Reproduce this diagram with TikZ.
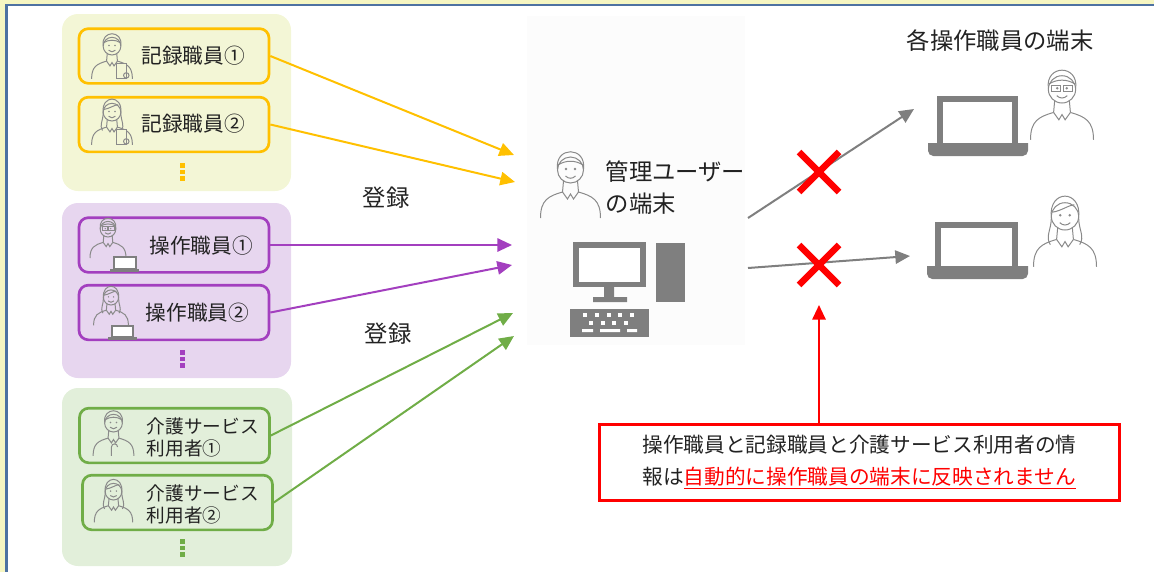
\documentclass[tikz,border=0pt]{standalone}
\usepackage{fontspec}
\setmainfont{Noto Sans CJK JP}
\usetikzlibrary{arrows.meta,shapes.misc}

\definecolor{recorange}{HTML}{FFC000}
\definecolor{recpanel}{HTML}{F3F6D6}
\definecolor{oppurple}{HTML}{A33FBF}
\definecolor{oppanel}{HTML}{E7D6EF}
\definecolor{caregreen}{HTML}{70AD47}
\definecolor{carepanel}{HTML}{E2EFDA}
\definecolor{devgray}{HTML}{7F7F7F}
\definecolor{icongray}{HTML}{8A8A8A}
\definecolor{framey}{HTML}{F6F6C2}
\definecolor{frameb}{HTML}{4E72A2}
\definecolor{txt}{HTML}{222222}

% head and shoulders, about 60 wide and 66 high
\newcommand\drawbust{%
  \draw[icon] (0,-13) circle (13);
  \draw[icon] (-7,-2) -- (-8,9) (7,-2) -- (8,9);
  \draw[icon] (-30,35) .. controls (-30,17) and (-22,13) .. (-8,9);
  \draw[icon] (30,35) .. controls (30,17) and (22,13) .. (8,9);
  \draw[icon] (-8,9) -- (-3,16) -- (0,11) -- (3,16) -- (8,9);
  \fill[icongray] (-4.5,-14) circle (1.3) (4.5,-14) circle (1.3);
  \draw[icon] (-5,-7) .. controls (-2,-4) and (2,-4) .. (5,-7);
}

\tikzset{
  icon/.style={draw=icongray, line width=0.75pt},
  man/.pic={\drawbust
    \draw[icon] (-13,-14) .. controls (-16,-37) and (16,-37) .. (13,-14);
    \draw[icon] (-12.5,-18) .. controls (-5,-23) and (5,-23) .. (12.5,-18);},
  woman/.pic={\drawbust
    \draw[icon] (-13,-12) .. controls (-16,-39) and (16,-39) .. (13,-12) .. controls (13,0) and (19,6) .. (14,14);
    \draw[icon] (-13,-12) .. controls (-13,0) and (-19,6) .. (-14,14);
    \draw[icon] (-12,-17) .. controls (-4,-18) and (4,-24) .. (9,-24);},
  specs/.pic={\draw[icon] (-10,-17) rectangle (-1.5,-11) (1.5,-17) rectangle (10,-11);},
  board/.pic={\filldraw[icon, fill=recpanel] (6,12) rectangle (21,34);
    \draw[icon] (21,30) circle (4);},
  cane/.pic={\draw[icon] (-3,35) -- (-3,22) .. controls (-3,16) and (6,16) .. (6,22);},
}

\begin{document}
\begin{tikzpicture}[x=0.75pt, y=-0.75pt,
  every node/.style={text=txt},
  lbl/.style={font=\fontsize{15.5}{17}\selectfont},
  carelbl/.style={font=\fontsize{14}{16.5}\selectfont, align=left, anchor=west},
  titletxt/.style={font=\fontsize{17.5}{24}\selectfont},
  member/.style={draw, rounded corners=7pt, line width=2pt, minimum width=142.5pt, minimum height=41pt, inner sep=0pt},
  feed/.style={line width=1.5pt, -{Triangle[length=11pt,width=10pt]}},
  ng/.style={cross out, draw=red, line width=5pt, minimum size=25pt, inner sep=0pt}]
\useasboundingbox (0,0) rectangle (1154,572);

% frame
\fill[framey] (0,0) rectangle (1154,3.5);
\fill[frameb] (0,3.5) rectangle (1154,6);
\fill[framey] (0,0) rectangle (5,572);
\fill[frameb] (5,3.5) rectangle (7.5,572);

% panels
\fill[recpanel, rounded corners=12pt] (62,14) rectangle (291,191);
\fill[oppanel, rounded corners=12pt] (62,203) rectangle (291,378);
\fill[carepanel, rounded corners=12pt] (62,388) rectangle (292,566);
\fill[black!1] (527,16) rectangle (745,345);

% member boxes
\node[member, draw=recorange] (rec1) at (174,56) {};
\node[member, draw=recorange] (rec2) at (174,124.5) {};
\node[member, draw=oppurple] (op1) at (174,245) {};
\node[member, draw=oppurple] (op2) at (174,312.5) {};
\node[member, draw=caregreen] (care1) at (174.5,435.5) {};
\node[member, draw=caregreen] (care2) at (177.5,502.5) {};

\node[lbl] (rec1t) at (193,56) {記録職員①};
\node[lbl] (rec2t) at (193,124) {記録職員②};
\node[lbl] (op1t) at (201,246) {操作職員①};
\node[lbl] (op2t) at (197.5,313) {操作職員②};
\node[carelbl] (care1t) at (142,437) {介護サービス\\利用者①};
\node[carelbl] (care2t) at (142,504) {介護サービス\\利用者②};

\foreach \c/\y in {recorange/163, oppurple/350, caregreen/539}
  \foreach \d in {0,6.5,13}
    \fill[\c] (180,\y+\d) rectangle +(4.5,4.5);

% people
\pic[scale=.68] at (112,55) {man};
\pic[scale=.68] at (112,55) {board};
\pic[scale=.68] at (112,121) {woman};
\pic[scale=.68] at (112,121) {board};
\pic[scale=.6] at (108,237) {man};
\pic[scale=.6] at (108,237) {specs};
\pic[scale=.58] at (111,305) {woman};
\pic[scale=.68] at (113.5,432) {man};
\pic[scale=.68] at (113.5,432) {cane};
\pic[scale=.64] at (113.5,500) {woman};
\pic at (570.5,183) {man};
\pic[scale=1.05] at (1062,103) {man};
\pic[scale=1.05] at (1062,103) {specs};
\pic[scale=1.05] at (1065,230) {woman};

% small laptops
\filldraw[devgray, fill=white, line width=1.2pt] (114,257) rectangle (136,269);
\fill[devgray] (110,269) rectangle (139,272);
\filldraw[devgray, fill=white, line width=1.2pt] (112,326) rectangle (133,337);
\fill[devgray] (108,337) rectangle (137,340);

% desktop
\fill[devgray] (573,242) rectangle (646,287);
\fill[white] (579,248) rectangle (640,281.5);
\fill[devgray] (604,287) rectangle (614,297) (593,297) rectangle (627,302);
\fill[devgray] (656,243) rectangle (685,302);
\fill[devgray] (570,309) rectangle (649,337);
\foreach \x in {583,595,607,618,630} \fill[white] (\x,313) rectangle +(4,4);
\foreach \x in {589,601,612,624} \fill[white] (\x,321) rectangle +(4,4);
\fill[white] (582,329) rectangle (593,332) (600,329) rectangle (620,332) (627,329) rectangle (637,332);

% laptops
\fill[devgray] (937,96) rectangle (1018,143);
\fill[white] (943,102) rectangle (1012,143);
\fill[devgray] (928,143) -- (1028,143) [rounded corners=4pt] -- (1028,156) -- (928,156) [sharp corners] -- cycle;
\fill[devgray] (935,222) rectangle (1018,266);
\fill[white] (941,228) rectangle (1012,266);
\fill[devgray] (927,266) -- (1028,266) [rounded corners=4pt] -- (1028,279) -- (927,279) [sharp corners] -- cycle;

% titles
\node[titletxt, align=left, anchor=west] (admt) at (601,188) {管理ユーザー\\の端末};
\node[titletxt] (pct) at (1000,41) {各操作職員の端末};
\node[titletxt] (reg1) at (386,198) {登録};
\node[titletxt] (reg2) at (388,334) {登録};

% connectors
\coordinate (in1) at (514,155);
\coordinate (in2) at (515,182);
\coordinate (in3) at (512,245);
\coordinate (in4) at (512,265);
\coordinate (in5) at (513,313);
\coordinate (in6) at (514,336);
\draw[feed, recorange] (rec1.east) -- (in1);
\draw[feed, recorange] (rec2.east) -- (in2);
\draw[feed, oppurple] (op1.east) -- (in3);
\draw[feed, oppurple] (op2.east) -- (in4);
\draw[feed, caregreen] (care1.east) -- (in5);
\draw[feed, caregreen] (care2.east) -- (in6);

\coordinate (out1) at (748,218);
\coordinate (out2) at (748,268);
\coordinate (pc1) at (914,109);
\coordinate (pc2) at (910,256);
\draw[feed, devgray] (out1) -- (pc1);
\draw[feed, devgray] (out2) -- (pc2);

\node[ng] (x1) at (819,172) {};
\node[ng] (x2) at (819,265) {};

% note
\node[draw=red, line width=2.2pt, minimum width=390pt, minimum height=57pt, align=left,
  font=\fontsize{15.5}{24}\selectfont] (note) at (859.5,462.5)
  {操作職員と記録職員と介護サービス利用者の情\\報は\textcolor{red}{\underline{自動的に操作職員の端末に反映されません}}};
\coordinate (xtip) at (819,305);
\draw[feed, red] (note.north -| xtip) -- (xtip);
\end{tikzpicture}
\end{document}
